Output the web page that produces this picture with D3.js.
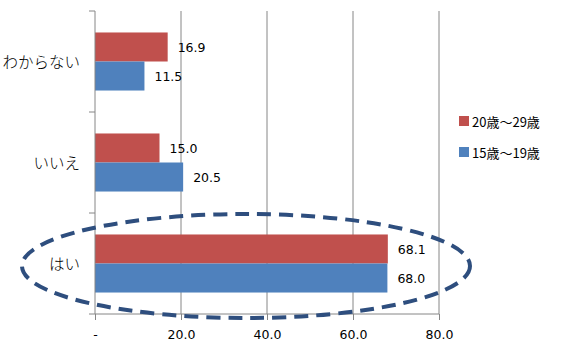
<!DOCTYPE html>
<html><head><meta charset="utf-8">
<script src="https://cdn.jsdelivr.net/npm/d3@7"></script>
<style>body{margin:0;background:#fff}svg{display:block}</style>
</head><body><svg id="c" width="568" height="351"></svg>
<script>
const categories = ["わからない", "いいえ", "はい"];
const seriesNames = ["20歳～29歳", "15歳～19歳"];
const values20to29 = [16.9, 15.0, 68.1];
const values15to19 = [11.5, 20.5, 68.0];
const xTicks = [0, 20, 40, 60, 80];
const xTickLabels = ["-", "20.0", "40.0", "60.0", "80.0"];
const colors = ["#C0504D", "#4F81BD"];

const svg = d3.select("#c");
const x = d3.scaleLinear().domain([0, 80]).range([95, 439]);
const y = d3.scaleBand().domain(categories).range([11, 314]).paddingInner(0).paddingOuter(0);
const inner = d3.scaleBand().domain(seriesNames).range([0, y.bandwidth()]).paddingOuter(0.74).paddingInner(0);
const series = [values20to29, values15to19];
const grid = "#868686";

// gridlines
svg.append("g").selectAll("line").data(xTicks.slice(1)).join("line")
  .attr("x1", d => x(d)).attr("x2", d => x(d)).attr("y1", 11).attr("y2", 314)
  .attr("stroke", grid).attr("stroke-width", 1);

// bars
series.forEach((vals, si) => {
  svg.append("g").selectAll("rect").data(vals).join("rect")
    .attr("x", x(0)).attr("y", (d, i) => y(categories[i]) + inner(seriesNames[si]))
    .attr("width", d => x(d) - x(0)).attr("height", inner.bandwidth())
    .attr("fill", colors[si]);
  svg.append("g").selectAll("text").data(vals).join("text")
    .attr("x", d => x(d) + 10).attr("y", (d, i) => y(categories[i]) + inner(seriesNames[si]) + inner.bandwidth() / 2 + 5)
    .attr("font-family", "DejaVu Sans, sans-serif").attr("font-size", 12.5).attr("fill", "#000")
    .text(d => d.toFixed(1));
});

// y axis
const yAxis = d3.axisLeft(y).tickSize(0).tickFormat("");
const ya = svg.append("g").attr("transform", `translate(${x(0)},0)`).call(yAxis);
ya.select(".domain").attr("stroke", grid).attr("d", "M0,11V314");
svg.append("g").selectAll("line").data([11, ...categories.map(c => y(c) + y.bandwidth())]).join("line")
  .attr("x1", x(0) - 6).attr("x2", x(0)).attr("y1", d => d).attr("y2", d => d)
  .attr("stroke", grid);
svg.append("g").selectAll("text").data(categories).join("text")
  .attr("x", 80).attr("y", d => y(d) + y.bandwidth() / 2 + 6)
  .attr("text-anchor", "end").attr("font-family", "Noto Sans CJK JP, sans-serif").attr("font-size", 15.5)
  .attr("font-weight", 300).attr("fill", "#000").text(d => d);

// x axis
const xAxis = d3.axisBottom(x).tickValues(xTicks).tickSize(6).tickFormat((d, i) => xTickLabels[i]);
const xa = svg.append("g").attr("transform", "translate(0,314)").call(xAxis);
xa.select(".domain").attr("stroke", grid).attr("d", `M${x(0)},0H${x(80)}`);
xa.selectAll(".tick line").attr("stroke", grid);
xa.selectAll(".tick text").attr("font-family", "DejaVu Sans, sans-serif").attr("font-size", 12.5).attr("fill", "#000").attr("dy", "1.25em");

// legend
const leg = svg.append("g");
seriesNames.forEach((n, i) => {
  const ly = 122 + i * 31;
  leg.append("rect").attr("x", 459).attr("y", ly - 6).attr("width", 10).attr("height", 10).attr("fill", colors[i]);
  leg.append("text").attr("x", 472).attr("y", ly + 4.5).attr("font-family", "Noto Sans CJK JP, sans-serif")
    .attr("font-size", 13).attr("fill", "#000").text(n);
});

// highlight ellipse
svg.append("ellipse").attr("cx", 246).attr("cy", 266).attr("rx", 224).attr("ry", 52)
  .attr("fill", "none").attr("stroke", "#2E4E7E").attr("stroke-width", 4).attr("stroke-dasharray", "14 8");
</script></body></html>
